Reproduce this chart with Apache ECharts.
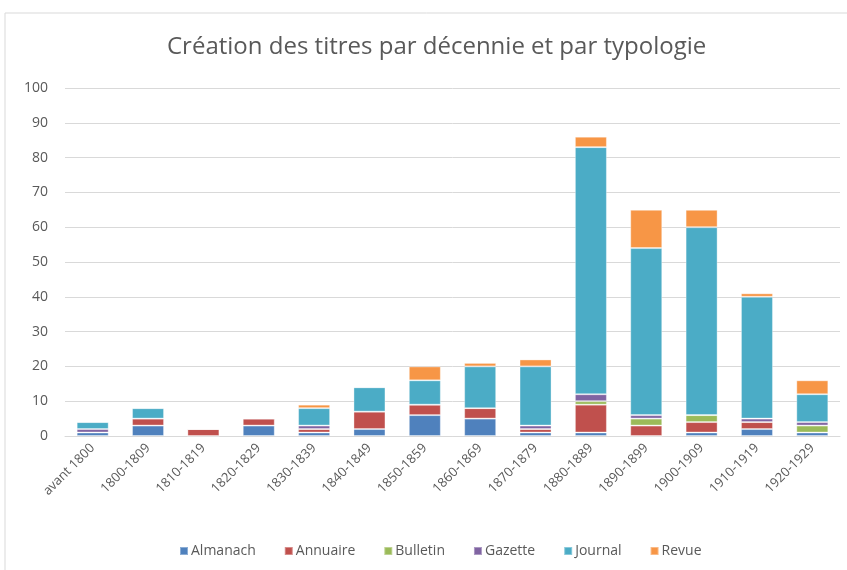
<!DOCTYPE html>
<html>
<head>
<meta charset="utf-8">
<script src="https://cdn.jsdelivr.net/npm/echarts@6/dist/echarts.min.js"></script>
<style>
  html, body { margin: 0; padding: 0; background: #fff; }
  #chart { width: 847px; height: 570px; }
</style>
</head>
<body>
<div id="chart"></div>
<script>
  // décennies
  var categories = ['avant 1800', '1800-1809', '1810-1819', '1820-1829', '1830-1839', '1840-1849', '1850-1859',
    '1860-1869', '1870-1879', '1880-1889', '1890-1899', '1900-1909', '1910-1919', '1920-1929'];

  var almanach = [1, 3, 0, 3, 1, 2, 6, 5, 1, 1, 0, 1, 2, 1];
  var annuaire = [0, 2, 2, 2, 1, 5, 3, 3, 1, 8, 3, 3, 2, 0];
  var bulletin = [0, 0, 0, 0, 0, 0, 0, 0, 0, 1, 2, 2, 0, 2];
  var gazette = [1, 0, 0, 0, 1, 0, 0, 0, 1, 2, 1, 0, 1, 1];
  var journal = [2, 3, 0, 0, 5, 7, 7, 12, 17, 71, 48, 54, 35, 8];
  var revue = [0, 0, 0, 0, 1, 0, 4, 1, 2, 3, 11, 5, 1, 4];

  var yTicks = [0, 10, 20, 30, 40, 50, 60, 70, 80, 90, 100];

  var seriesDefs = [
    { name: 'Almanach', data: almanach, color: '#4f81bd' },
    { name: 'Annuaire', data: annuaire, color: '#c0504d' },
    { name: 'Bulletin', data: bulletin, color: '#9bbb59' },
    { name: 'Gazette', data: gazette, color: '#8064a2' },
    { name: 'Journal', data: journal, color: '#4bacc6' },
    { name: 'Revue', data: revue, color: '#f79646' }
  ];

  var font = 'Open Sans, Noto Sans, sans-serif';
  var chart = echarts.init(document.getElementById('chart'), null, { renderer: 'canvas' });

  chart.setOption({
    animation: false,
    backgroundColor: '#fff',
    textStyle: { fontFamily: font },
    title: {
      text: 'Création des titres par décennie et par typologie',
      left: 162,
      top: 30,
      textStyle: { fontSize: 24, fontWeight: 'normal', color: '#595959', fontFamily: font }
    },
    legend: {
      bottom: 7,
      left: 174,
      itemWidth: 8,
      itemHeight: 8,
      itemGap: 28,
      icon: 'rect',
      textStyle: { fontSize: 14, color: '#595959', padding: [0, 0, 0, -2] },
      data: seriesDefs.map(function (s) { return s.name; })
    },
    grid: {
      left: 65,
      right: 7,
      top: 88,
      bottom: 134
    },
    xAxis: {
      type: 'category',
      data: categories,
      axisLine: { lineStyle: { color: '#d9d9d9' } },
      axisTick: { show: false },
      axisLabel: { rotate: 45, fontSize: 13, color: '#595959', margin: 10, interval: 0 }
    },
    yAxis: {
      type: 'value',
      min: yTicks[0],
      max: yTicks[yTicks.length - 1],
      interval: 10,
      axisLine: { show: false },
      axisTick: { show: false },
      splitLine: { lineStyle: { color: '#d9d9d9', width: 1 } },
      axisLabel: { fontSize: 14, color: '#595959', margin: 17 }
    },
    series: seriesDefs.map(function (s) {
      return {
        name: s.name,
        type: 'bar',
        stack: 'total',
        barWidth: 32,
        data: s.data,
        itemStyle: { color: s.color, borderColor: 'rgba(255,255,255,0.35)', borderWidth: 1 }
      };
    }),
    graphic: [{
      type: 'rect',
      shape: { x: 5, y: 13, width: 860, height: 600 },
      style: { fill: 'none', stroke: '#d9d9d9', lineWidth: 1 },
      silent: true
    }]
  });
</script>
</body>
</html>
